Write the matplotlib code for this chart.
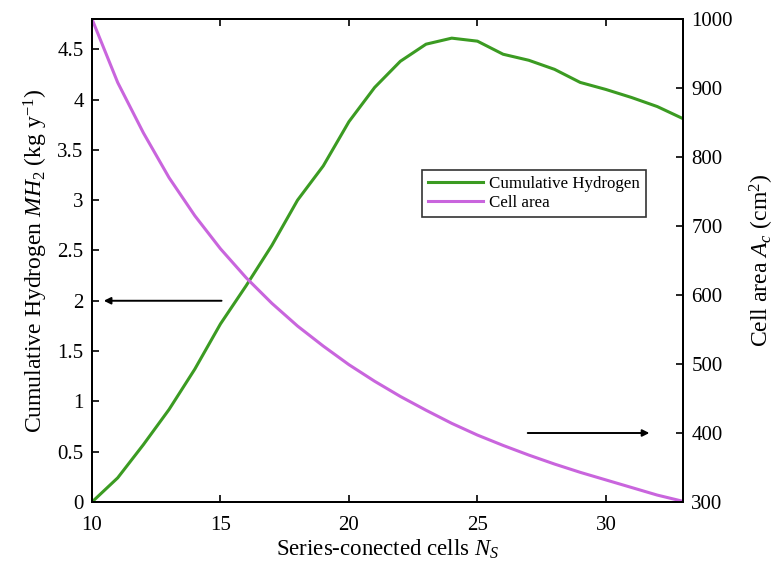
import matplotlib
matplotlib.use("Agg")
import matplotlib.pyplot as plt
import numpy as np

plt.rcParams['font.family'] = ['Liberation Serif', 'DejaVu Serif']
plt.rcParams['mathtext.fontset'] = 'custom'
plt.rcParams['mathtext.rm'] = 'Liberation Serif'
plt.rcParams['mathtext.it'] = 'Liberation Serif:italic'

# series-connected cells
n_cells = np.arange(10, 34)
# cumulative hydrogen (kg/y), left axis
hydrogen = [0.0, 0.24, 0.57, 0.92, 1.32, 1.77, 2.15, 2.55, 3.0, 3.34,
            3.78, 4.12, 4.38, 4.55, 4.61, 4.58, 4.45, 4.39, 4.30, 4.17,
            4.10, 4.02, 3.93, 3.81]
# cell area (cm2), right axis
cell_area = [1000, 908, 835, 770, 715, 667, 625, 588, 555, 526,
             499, 475, 453, 433, 414, 397, 382, 368, 355, 343,
             332, 321, 310, 301]

green = '#3b9b22'
purple = '#c965dd'

fig = plt.figure(figsize=(7.77, 5.68), dpi=100)
ax = fig.add_axes([0.1184, 0.1162, 0.7606, 0.8503])
ax2 = ax.twinx()

l1, = ax.plot(n_cells, hydrogen, color=green, lw=2.2, label='Cumulative Hydrogen')
l2, = ax2.plot(n_cells, cell_area, color=purple, lw=2.2, label='Cell area')

ax.set_xlim(10, 33)
ax.set_ylim(0, 4.8)
ax2.set_ylim(300, 1000)
ax.set_xticks([10, 15, 20, 25, 30])
ax.set_yticks(np.arange(0, 4.51, 0.5))
ax.set_yticklabels(['0', '0.5', '1', '1.5', '2', '2.5', '3', '3.5', '4', '4.5'])
ax2.set_yticks(np.arange(300, 1001, 100))

ax.tick_params(direction='in', length=5, width=1.2, labelsize=15, top=True, right=False)
ax.tick_params(axis='x', pad=10)
ax.tick_params(axis='y', pad=6)
ax2.tick_params(direction='in', length=5, width=1.2, labelsize=15, left=False, pad=6)
for a in (ax, ax2):
    for s in a.spines.values():
        s.set_linewidth(1.4)

ax.set_xlabel('Series-conected cells $N_S$', fontsize=16.5, labelpad=2)
ax.set_ylabel('Cumulative Hydrogen $MH_2$ (kg y$^{-1}$)', fontsize=17, labelpad=5)
ax2.set_ylabel('Cell area $A_c$ (cm$^2$)', fontsize=17, labelpad=11)

# arrows pointing to the axis each curve belongs to
ax.annotate('', xy=(10.35, 2.0), xytext=(15.15, 2.0),
            arrowprops=dict(arrowstyle='-|>', color='black', lw=1.4, mutation_scale=10))
ax2.annotate('', xy=(31.8, 400), xytext=(26.85, 400),
             arrowprops=dict(arrowstyle='-|>', color='black', lw=1.4, mutation_scale=10))

leg = ax2.legend(handles=[l1, l2], loc='upper left', bbox_to_anchor=(0.558, 0.687),
                 fontsize=12.2, frameon=True, fancybox=False, edgecolor='black',
                 handlelength=3.25, borderpad=0.35, labelspacing=0.15, borderaxespad=0,
                 handletextpad=0.35)
leg.get_frame().set_linewidth(1.2)

fig.savefig('out.png', dpi=100)
